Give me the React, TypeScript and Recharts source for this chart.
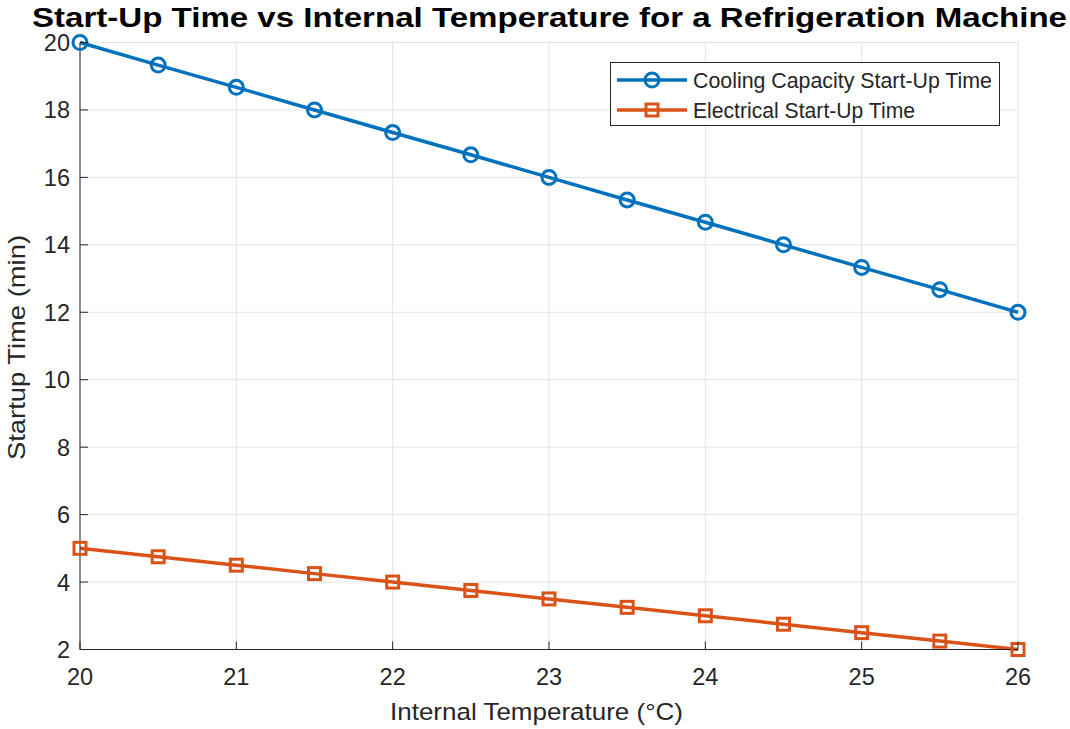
import React from 'react';
import { LineChart, Line, XAxis, YAxis, CartesianGrid, Legend } from 'recharts';

// Internal temperature (°C) sample points
const temperatures = [20, 20.5, 21, 21.5, 22, 22.5, 23, 23.5, 24, 24.5, 25, 25.5, 26];
// Start-up times (min)
const coolingStartup = [20, 19.33, 18.67, 18, 17.33, 16.67, 16, 15.33, 14.67, 14, 13.33, 12.67, 12];
const electricalStartup = [5, 4.75, 4.5, 4.25, 4, 3.75, 3.5, 3.25, 3, 2.75, 2.5, 2.25, 2];

const xTicks = [20, 21, 22, 23, 24, 25, 26];
const yTicks = [2, 4, 6, 8, 10, 12, 14, 16, 18, 20];

const seriesNames = ['Cooling Capacity Start-Up Time', 'Electrical Start-Up Time'];
const chartTitle = 'Start-Up Time vs Internal Temperature for a Refrigeration Machine';
const xLabel = 'Internal Temperature (°C)';
const yLabel = 'Startup Time (min)';

const data = temperatures.map((t, i) => ({
  temp: t,
  cooling: coolingStartup[i],
  electrical: electricalStartup[i],
}));

const FONT = '"Liberation Sans", Arial, Helvetica, sans-serif';
const AXIS = '#262626';
const BLUE = '#0072BD';
const ORANGE = '#D95319';
const TICK_LEN = 8;
const TICK_FONT = 23.5;

const BottomTick = (props: any) => {
  const { x, y, payload } = props;
  return (
    <g>
      <line x1={x} y1={y} x2={x} y2={y - TICK_LEN} stroke={AXIS} strokeWidth={1} />
      <text x={x} y={y + 35.5} textAnchor="middle" fontSize={TICK_FONT} fill={AXIS} fontFamily={FONT}>
        {payload.value}
      </text>
    </g>
  );
};

const LeftTick = (props: any) => {
  const { x, y, payload } = props;
  return (
    <g>
      <line x1={x} y1={y} x2={x + TICK_LEN} y2={y} stroke={AXIS} strokeWidth={1} />
      <text x={x - 10} y={y + 8.5} textAnchor="end" fontSize={TICK_FONT} fill={AXIS} fontFamily={FONT}>
        {payload.value}
      </text>
    </g>
  );
};

const TopTick = (props: any) => {
  const { x, y } = props;
  return <line x1={x} y1={y} x2={x} y2={y + TICK_LEN} stroke={AXIS} strokeWidth={1} />;
};

const RightTick = (props: any) => {
  const { x, y } = props;
  return <line x1={x} y1={y} x2={x - TICK_LEN} y2={y} stroke={AXIS} strokeWidth={1} />;
};

const CircleMarker = (props: any) => {
  const { cx, cy, index } = props;
  return <circle key={`c${index}`} cx={cx} cy={cy} r={7} stroke={BLUE} strokeWidth={3} fill="none" />;
};

const SquareMarker = (props: any) => {
  const { cx, cy, index } = props;
  return (
    <rect key={`s${index}`} x={cx - 6} y={cy - 6} width={12} height={12} stroke={ORANGE} strokeWidth={3} fill="none" />
  );
};

const LegendBox = () => (
  <svg width={390} height={64} style={{ display: 'block' }}>
    <rect x={0.5} y={0.5} width={389} height={63} fill="#fff" stroke={AXIS} strokeWidth={1} />
    <line x1={7} y1={18} x2={77} y2={18} stroke={BLUE} strokeWidth={3.5} />
    <circle cx={42} cy={18} r={7} stroke={BLUE} strokeWidth={3} fill="none" />
    <text x={83} y={26} fontSize={21.5} fill={AXIS} fontFamily={FONT} textLength={299} lengthAdjust="spacingAndGlyphs">
      {seriesNames[0]}
    </text>
    <line x1={7} y1={48} x2={77} y2={48} stroke={ORANGE} strokeWidth={3.5} />
    <rect x={36} y={42} width={12} height={12} stroke={ORANGE} strokeWidth={3} fill="none" />
    <text x={83} y={56} fontSize={21.5} fill={AXIS} fontFamily={FONT} textLength={222} lengthAdjust="spacingAndGlyphs">
      {seriesNames[1]}
    </text>
  </svg>
);

export default function App() {
  return (
    <div style={{ position: 'absolute', left: 0, top: 0, width: 1070, height: 729, background: '#fff', fontFamily: FONT }}>
      <svg width={1070} height={40} style={{ position: 'absolute', left: 0, top: 0 }}>
        <text
          x={549.5}
          y={26.5}
          textAnchor="middle"
          fontSize={27}
          fontWeight="bold"
          fill="#000"
          fontFamily={FONT}
          textLength={1035}
          lengthAdjust="spacingAndGlyphs"
        >
          {chartTitle}
        </text>
      </svg>
      <LineChart
        width={1070}
        height={729}
        data={data}
        margin={{ top: 42.5, right: 52, bottom: 0, left: 0 }}
        style={{ position: 'absolute', left: 0, top: 0 }}
      >
        <CartesianGrid stroke="#e3e3e3" strokeWidth={1} />
        <XAxis
          dataKey="temp"
          type="number"
          domain={[20, 26]}
          ticks={xTicks}
          height={79.5}
          tickSize={0}
          tickMargin={0}
          tick={BottomTick}
          tickLine={false}
          axisLine={{ stroke: AXIS, strokeWidth: 1 }}
          interval={0}
          label={{
            content: () => (
              <text
                x={536.5}
                y={719.5}
                textAnchor="middle"
                fontSize={24.5}
                fill={AXIS}
                fontFamily={FONT}
                textLength={293}
                lengthAdjust="spacingAndGlyphs"
              >
                {xLabel}
              </text>
            ),
          }}
        />
        <XAxis
          xAxisId="top"
          orientation="top"
          dataKey="temp"
          type="number"
          domain={[20, 26]}
          ticks={xTicks}
          height={0}
          tickSize={0}
          tickMargin={0}
          tick={TopTick}
          tickLine={false}
          axisLine={{ stroke: AXIS, strokeWidth: 1 }}
          interval={0}
          allowDataOverflow
        />
        <YAxis
          type="number"
          domain={[2, 20]}
          ticks={yTicks}
          width={80}
          tickSize={0}
          tickMargin={0}
          tick={LeftTick}
          tickLine={false}
          axisLine={{ stroke: AXIS, strokeWidth: 1 }}
          interval={0}
          label={{
            content: () => {
              const cx = 25;
              const cy = 347.5;
              return (
                <text
                  x={cx}
                  y={cy}
                  transform={`rotate(-90 ${cx} ${cy})`}
                  textAnchor="middle"
                  fontSize={24.5}
                  fill={AXIS}
                  fontFamily={FONT}
                  textLength={225}
                  lengthAdjust="spacingAndGlyphs"
                >
                  {yLabel}
                </text>
              );
            },
          }}
        />
        <YAxis
          yAxisId="right"
          orientation="right"
          type="number"
          domain={[2, 20]}
          ticks={yTicks}
          width={0}
          tickSize={0}
          tickMargin={0}
          tick={RightTick}
          tickLine={false}
          axisLine={{ stroke: AXIS, strokeWidth: 1 }}
          interval={0}
          allowDataOverflow
        />
        <Legend
          layout="vertical"
          align="center"
          verticalAlign="middle"
          wrapperStyle={{ position: 'absolute', left: 610, top: 62, width: 390, height: 64 }}
          content={() => <LegendBox />}
        />
        <Line
          type="linear"
          dataKey="cooling"
          name={seriesNames[0]}
          stroke={BLUE}
          strokeWidth={3.5}
          dot={CircleMarker}
          activeDot={false}
          isAnimationActive={false}
        />
        <Line
          type="linear"
          dataKey="electrical"
          name={seriesNames[1]}
          stroke={ORANGE}
          strokeWidth={3.5}
          dot={SquareMarker}
          activeDot={false}
          isAnimationActive={false}
        />
      </LineChart>
    </div>
  );
}
